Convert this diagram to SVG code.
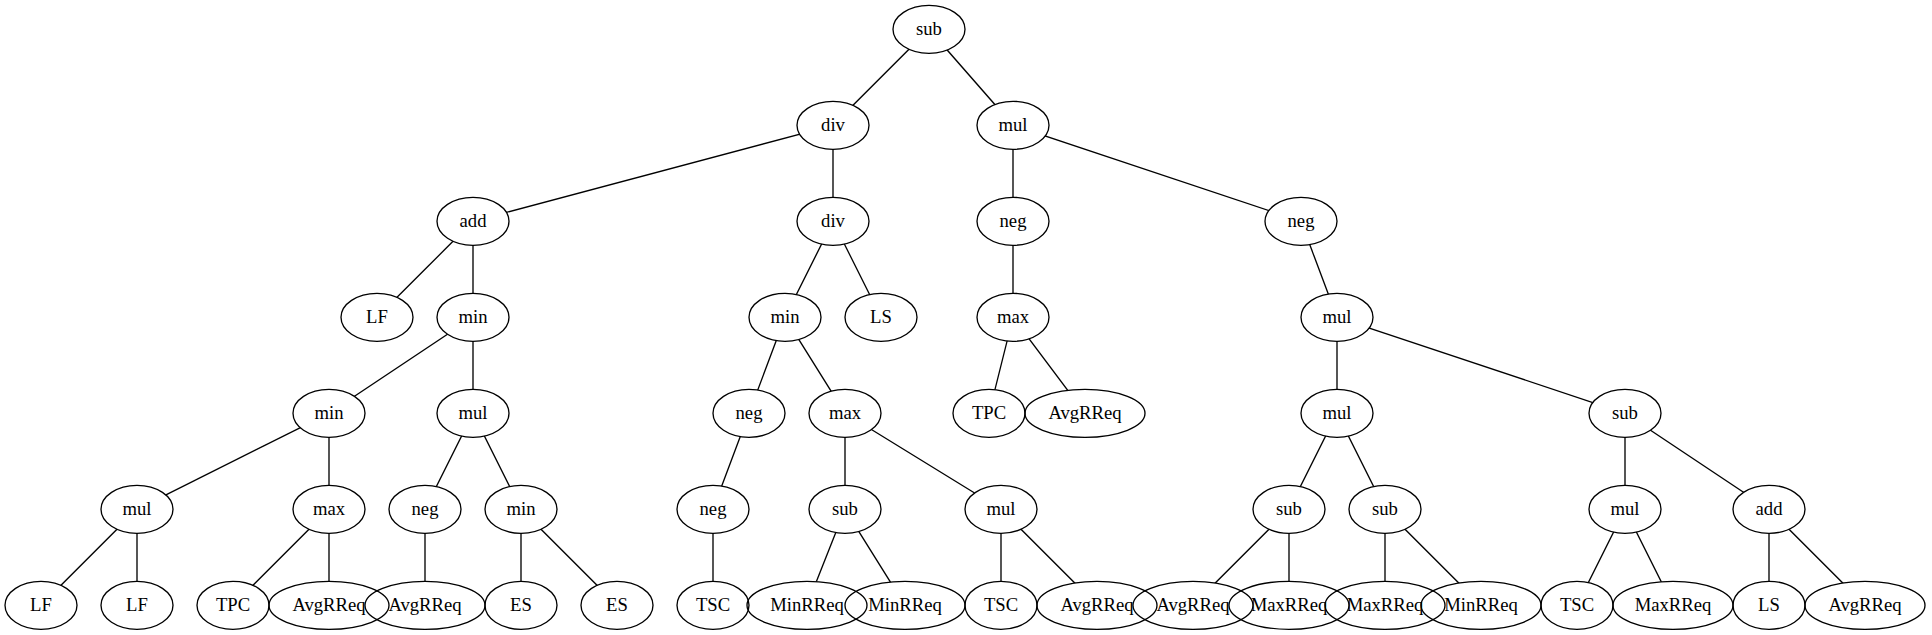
<svg xmlns="http://www.w3.org/2000/svg" width="1932" height="635" viewBox="0 0 1932 635">
<style>
.node ellipse{fill:none;stroke:#000;stroke-width:1.33}
.node text{font-family:'Liberation Serif','Times New Roman',Times,serif;font-size:18.67px;text-anchor:middle;fill:#000}
#edges line{stroke:#000;stroke-width:1.33}
.m ellipse{fill:#000}
</style>
<defs>
<mask id="cut" maskUnits="userSpaceOnUse" x="0" y="0" width="1932" height="635">
<rect x="0" y="0" width="1932" height="635" fill="#fff"/>
<g class="m">
<ellipse cx="929" cy="29.3" rx="36" ry="24"/>
<ellipse cx="833" cy="125.3" rx="36" ry="24"/>
<ellipse cx="1013" cy="125.3" rx="36" ry="24"/>
<ellipse cx="473" cy="221.3" rx="36" ry="24"/>
<ellipse cx="833" cy="221.3" rx="36" ry="24"/>
<ellipse cx="1013" cy="221.3" rx="36" ry="24"/>
<ellipse cx="1301" cy="221.3" rx="36" ry="24"/>
<ellipse cx="377" cy="317.3" rx="36" ry="24"/>
<ellipse cx="473" cy="317.3" rx="36" ry="24"/>
<ellipse cx="785" cy="317.3" rx="36" ry="24"/>
<ellipse cx="881" cy="317.3" rx="36" ry="24"/>
<ellipse cx="1013" cy="317.3" rx="36" ry="24"/>
<ellipse cx="1337" cy="317.3" rx="36" ry="24"/>
<ellipse cx="329" cy="413.3" rx="36" ry="24"/>
<ellipse cx="473" cy="413.3" rx="36" ry="24"/>
<ellipse cx="749" cy="413.3" rx="36" ry="24"/>
<ellipse cx="845" cy="413.3" rx="36" ry="24"/>
<ellipse cx="989" cy="413.3" rx="36" ry="24"/>
<ellipse cx="1085" cy="413.3" rx="60" ry="24"/>
<ellipse cx="1337" cy="413.3" rx="36" ry="24"/>
<ellipse cx="1625" cy="413.3" rx="36" ry="24"/>
<ellipse cx="137" cy="509.3" rx="36" ry="24"/>
<ellipse cx="329" cy="509.3" rx="36" ry="24"/>
<ellipse cx="425" cy="509.3" rx="36" ry="24"/>
<ellipse cx="521" cy="509.3" rx="36" ry="24"/>
<ellipse cx="713" cy="509.3" rx="36" ry="24"/>
<ellipse cx="845" cy="509.3" rx="36" ry="24"/>
<ellipse cx="1001" cy="509.3" rx="36" ry="24"/>
<ellipse cx="1289" cy="509.3" rx="36" ry="24"/>
<ellipse cx="1385" cy="509.3" rx="36" ry="24"/>
<ellipse cx="1625" cy="509.3" rx="36" ry="24"/>
<ellipse cx="1769" cy="509.3" rx="36" ry="24"/>
<ellipse cx="41" cy="605.3" rx="36" ry="24"/>
<ellipse cx="137" cy="605.3" rx="36" ry="24"/>
<ellipse cx="233" cy="605.3" rx="36" ry="24"/>
<ellipse cx="329" cy="605.3" rx="60" ry="24"/>
<ellipse cx="425" cy="605.3" rx="60" ry="24"/>
<ellipse cx="521" cy="605.3" rx="36" ry="24"/>
<ellipse cx="617" cy="605.3" rx="36" ry="24"/>
<ellipse cx="713" cy="605.3" rx="36" ry="24"/>
<ellipse cx="807" cy="605.3" rx="60" ry="24"/>
<ellipse cx="905" cy="605.3" rx="60" ry="24"/>
<ellipse cx="1001" cy="605.3" rx="36" ry="24"/>
<ellipse cx="1097" cy="605.3" rx="60" ry="24"/>
<ellipse cx="1193" cy="605.3" rx="60" ry="24"/>
<ellipse cx="1289" cy="605.3" rx="60" ry="24"/>
<ellipse cx="1385" cy="605.3" rx="60" ry="24"/>
<ellipse cx="1481" cy="605.3" rx="60" ry="24"/>
<ellipse cx="1577" cy="605.3" rx="36" ry="24"/>
<ellipse cx="1673" cy="605.3" rx="60" ry="24"/>
<ellipse cx="1769" cy="605.3" rx="36" ry="24"/>
<ellipse cx="1865" cy="605.3" rx="60" ry="24"/>
</g>
</mask>
</defs>
<rect x="0" y="0" width="1932" height="635" fill="#fff"/>
<g id="edges" mask="url(#cut)">
<line x1="929" y1="29.3" x2="833" y2="125.3"/>
<line x1="929" y1="29.3" x2="1013" y2="125.3"/>
<line x1="833" y1="125.3" x2="473" y2="221.3"/>
<line x1="833" y1="125.3" x2="833" y2="221.3"/>
<line x1="1013" y1="125.3" x2="1013" y2="221.3"/>
<line x1="1013" y1="125.3" x2="1301" y2="221.3"/>
<line x1="473" y1="221.3" x2="377" y2="317.3"/>
<line x1="473" y1="221.3" x2="473" y2="317.3"/>
<line x1="833" y1="221.3" x2="785" y2="317.3"/>
<line x1="833" y1="221.3" x2="881" y2="317.3"/>
<line x1="1013" y1="221.3" x2="1013" y2="317.3"/>
<line x1="1301" y1="221.3" x2="1337" y2="317.3"/>
<line x1="473" y1="317.3" x2="329" y2="413.3"/>
<line x1="473" y1="317.3" x2="473" y2="413.3"/>
<line x1="785" y1="317.3" x2="749" y2="413.3"/>
<line x1="785" y1="317.3" x2="845" y2="413.3"/>
<line x1="1013" y1="317.3" x2="989" y2="413.3"/>
<line x1="1013" y1="317.3" x2="1085" y2="413.3"/>
<line x1="1337" y1="317.3" x2="1337" y2="413.3"/>
<line x1="1337" y1="317.3" x2="1625" y2="413.3"/>
<line x1="329" y1="413.3" x2="137" y2="509.3"/>
<line x1="329" y1="413.3" x2="329" y2="509.3"/>
<line x1="473" y1="413.3" x2="425" y2="509.3"/>
<line x1="473" y1="413.3" x2="521" y2="509.3"/>
<line x1="749" y1="413.3" x2="713" y2="509.3"/>
<line x1="845" y1="413.3" x2="845" y2="509.3"/>
<line x1="845" y1="413.3" x2="1001" y2="509.3"/>
<line x1="1337" y1="413.3" x2="1289" y2="509.3"/>
<line x1="1337" y1="413.3" x2="1385" y2="509.3"/>
<line x1="1625" y1="413.3" x2="1625" y2="509.3"/>
<line x1="1625" y1="413.3" x2="1769" y2="509.3"/>
<line x1="137" y1="509.3" x2="41" y2="605.3"/>
<line x1="137" y1="509.3" x2="137" y2="605.3"/>
<line x1="329" y1="509.3" x2="233" y2="605.3"/>
<line x1="329" y1="509.3" x2="329" y2="605.3"/>
<line x1="425" y1="509.3" x2="425" y2="605.3"/>
<line x1="521" y1="509.3" x2="521" y2="605.3"/>
<line x1="521" y1="509.3" x2="617" y2="605.3"/>
<line x1="713" y1="509.3" x2="713" y2="605.3"/>
<line x1="845" y1="509.3" x2="807" y2="605.3"/>
<line x1="845" y1="509.3" x2="905" y2="605.3"/>
<line x1="1001" y1="509.3" x2="1001" y2="605.3"/>
<line x1="1001" y1="509.3" x2="1097" y2="605.3"/>
<line x1="1289" y1="509.3" x2="1193" y2="605.3"/>
<line x1="1289" y1="509.3" x2="1289" y2="605.3"/>
<line x1="1385" y1="509.3" x2="1385" y2="605.3"/>
<line x1="1385" y1="509.3" x2="1481" y2="605.3"/>
<line x1="1625" y1="509.3" x2="1577" y2="605.3"/>
<line x1="1625" y1="509.3" x2="1673" y2="605.3"/>
<line x1="1769" y1="509.3" x2="1769" y2="605.3"/>
<line x1="1769" y1="509.3" x2="1865" y2="605.3"/>
</g>
<g id="nodes" font-family="'Liberation Serif', 'Times New Roman', Times, serif" font-size="18.67" text-anchor="middle">
<g id="n0" class="node"><ellipse cx="929" cy="29.3" rx="36" ry="24"/><text x="929" y="34.5">sub</text></g>
<g id="n1" class="node"><ellipse cx="833" cy="125.3" rx="36" ry="24"/><text x="833" y="130.5">div</text></g>
<g id="n2" class="node"><ellipse cx="1013" cy="125.3" rx="36" ry="24"/><text x="1013" y="130.5">mul</text></g>
<g id="n3" class="node"><ellipse cx="473" cy="221.3" rx="36" ry="24"/><text x="473" y="226.5">add</text></g>
<g id="n4" class="node"><ellipse cx="833" cy="221.3" rx="36" ry="24"/><text x="833" y="226.5">div</text></g>
<g id="n5" class="node"><ellipse cx="1013" cy="221.3" rx="36" ry="24"/><text x="1013" y="226.5">neg</text></g>
<g id="n6" class="node"><ellipse cx="1301" cy="221.3" rx="36" ry="24"/><text x="1301" y="226.5">neg</text></g>
<g id="n7" class="node"><ellipse cx="377" cy="317.3" rx="36" ry="24"/><text x="377" y="322.5">LF</text></g>
<g id="n8" class="node"><ellipse cx="473" cy="317.3" rx="36" ry="24"/><text x="473" y="322.5">min</text></g>
<g id="n9" class="node"><ellipse cx="785" cy="317.3" rx="36" ry="24"/><text x="785" y="322.5">min</text></g>
<g id="n10" class="node"><ellipse cx="881" cy="317.3" rx="36" ry="24"/><text x="881" y="322.5">LS</text></g>
<g id="n11" class="node"><ellipse cx="1013" cy="317.3" rx="36" ry="24"/><text x="1013" y="322.5">max</text></g>
<g id="n12" class="node"><ellipse cx="1337" cy="317.3" rx="36" ry="24"/><text x="1337" y="322.5">mul</text></g>
<g id="n13" class="node"><ellipse cx="329" cy="413.3" rx="36" ry="24"/><text x="329" y="418.5">min</text></g>
<g id="n14" class="node"><ellipse cx="473" cy="413.3" rx="36" ry="24"/><text x="473" y="418.5">mul</text></g>
<g id="n15" class="node"><ellipse cx="749" cy="413.3" rx="36" ry="24"/><text x="749" y="418.5">neg</text></g>
<g id="n16" class="node"><ellipse cx="845" cy="413.3" rx="36" ry="24"/><text x="845" y="418.5">max</text></g>
<g id="n17" class="node"><ellipse cx="989" cy="413.3" rx="36" ry="24"/><text x="989" y="418.5">TPC</text></g>
<g id="n18" class="node"><ellipse cx="1085" cy="413.3" rx="60" ry="24"/><text x="1085" y="418.5">AvgRReq</text></g>
<g id="n19" class="node"><ellipse cx="1337" cy="413.3" rx="36" ry="24"/><text x="1337" y="418.5">mul</text></g>
<g id="n20" class="node"><ellipse cx="1625" cy="413.3" rx="36" ry="24"/><text x="1625" y="418.5">sub</text></g>
<g id="n21" class="node"><ellipse cx="137" cy="509.3" rx="36" ry="24"/><text x="137" y="514.5">mul</text></g>
<g id="n22" class="node"><ellipse cx="329" cy="509.3" rx="36" ry="24"/><text x="329" y="514.5">max</text></g>
<g id="n23" class="node"><ellipse cx="425" cy="509.3" rx="36" ry="24"/><text x="425" y="514.5">neg</text></g>
<g id="n24" class="node"><ellipse cx="521" cy="509.3" rx="36" ry="24"/><text x="521" y="514.5">min</text></g>
<g id="n25" class="node"><ellipse cx="713" cy="509.3" rx="36" ry="24"/><text x="713" y="514.5">neg</text></g>
<g id="n26" class="node"><ellipse cx="845" cy="509.3" rx="36" ry="24"/><text x="845" y="514.5">sub</text></g>
<g id="n27" class="node"><ellipse cx="1001" cy="509.3" rx="36" ry="24"/><text x="1001" y="514.5">mul</text></g>
<g id="n28" class="node"><ellipse cx="1289" cy="509.3" rx="36" ry="24"/><text x="1289" y="514.5">sub</text></g>
<g id="n29" class="node"><ellipse cx="1385" cy="509.3" rx="36" ry="24"/><text x="1385" y="514.5">sub</text></g>
<g id="n30" class="node"><ellipse cx="1625" cy="509.3" rx="36" ry="24"/><text x="1625" y="514.5">mul</text></g>
<g id="n31" class="node"><ellipse cx="1769" cy="509.3" rx="36" ry="24"/><text x="1769" y="514.5">add</text></g>
<g id="n32" class="node"><ellipse cx="41" cy="605.3" rx="36" ry="24"/><text x="41" y="610.5">LF</text></g>
<g id="n33" class="node"><ellipse cx="137" cy="605.3" rx="36" ry="24"/><text x="137" y="610.5">LF</text></g>
<g id="n34" class="node"><ellipse cx="233" cy="605.3" rx="36" ry="24"/><text x="233" y="610.5">TPC</text></g>
<g id="n35" class="node"><ellipse cx="329" cy="605.3" rx="60" ry="24"/><text x="329" y="610.5">AvgRReq</text></g>
<g id="n36" class="node"><ellipse cx="425" cy="605.3" rx="60" ry="24"/><text x="425" y="610.5">AvgRReq</text></g>
<g id="n37" class="node"><ellipse cx="521" cy="605.3" rx="36" ry="24"/><text x="521" y="610.5">ES</text></g>
<g id="n38" class="node"><ellipse cx="617" cy="605.3" rx="36" ry="24"/><text x="617" y="610.5">ES</text></g>
<g id="n39" class="node"><ellipse cx="713" cy="605.3" rx="36" ry="24"/><text x="713" y="610.5">TSC</text></g>
<g id="n40" class="node"><ellipse cx="807" cy="605.3" rx="60" ry="24"/><text x="807" y="610.5">MinRReq</text></g>
<g id="n41" class="node"><ellipse cx="905" cy="605.3" rx="60" ry="24"/><text x="905" y="610.5">MinRReq</text></g>
<g id="n42" class="node"><ellipse cx="1001" cy="605.3" rx="36" ry="24"/><text x="1001" y="610.5">TSC</text></g>
<g id="n43" class="node"><ellipse cx="1097" cy="605.3" rx="60" ry="24"/><text x="1097" y="610.5">AvgRReq</text></g>
<g id="n44" class="node"><ellipse cx="1193" cy="605.3" rx="60" ry="24"/><text x="1193" y="610.5">AvgRReq</text></g>
<g id="n45" class="node"><ellipse cx="1289" cy="605.3" rx="60" ry="24"/><text x="1289" y="610.5">MaxRReq</text></g>
<g id="n46" class="node"><ellipse cx="1385" cy="605.3" rx="60" ry="24"/><text x="1385" y="610.5">MaxRReq</text></g>
<g id="n47" class="node"><ellipse cx="1481" cy="605.3" rx="60" ry="24"/><text x="1481" y="610.5">MinRReq</text></g>
<g id="n48" class="node"><ellipse cx="1577" cy="605.3" rx="36" ry="24"/><text x="1577" y="610.5">TSC</text></g>
<g id="n49" class="node"><ellipse cx="1673" cy="605.3" rx="60" ry="24"/><text x="1673" y="610.5">MaxRReq</text></g>
<g id="n50" class="node"><ellipse cx="1769" cy="605.3" rx="36" ry="24"/><text x="1769" y="610.5">LS</text></g>
<g id="n51" class="node"><ellipse cx="1865" cy="605.3" rx="60" ry="24"/><text x="1865" y="610.5">AvgRReq</text></g>
</g>
</svg>
